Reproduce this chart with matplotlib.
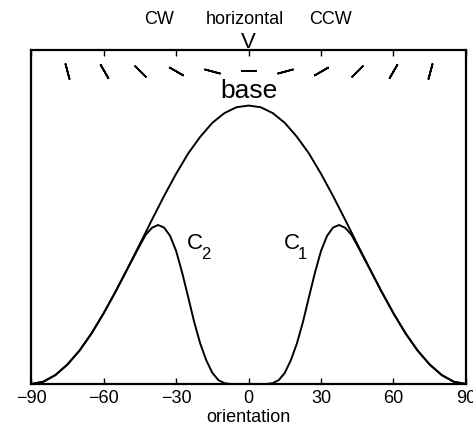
# tuning curves: base response and the two channels C1 / C2 over orientation
import matplotlib
matplotlib.use("Agg")
import matplotlib.pyplot as plt

plt.rcParams["font.family"] = ["Liberation Sans", "DejaVu Sans"]

# base curve, read every 5 deg
theta_base = [-90, -85, -80, -75, -70, -65, -60, -55, -50, -45, -40, -35, -30,
              -25, -20, -15, -10, -5, 0, 5, 10, 15, 20, 25, 30, 35, 40, 45,
              50, 55, 60, 65, 70, 75, 80, 85, 90]
base = [0.000, 0.008, 0.032, 0.070, 0.120, 0.182, 0.254, 0.333, 0.417, 0.503,
        0.590, 0.675, 0.755, 0.828, 0.888, 0.938, 0.973, 0.994, 1.000,
        0.994, 0.973, 0.938, 0.888, 0.828, 0.755, 0.675, 0.590, 0.503,
        0.417, 0.333, 0.254, 0.182, 0.120, 0.070, 0.032, 0.008, 0.000]

# C2 (left channel), finer steps round the peak
theta_c2 = [-90, -85, -80, -75, -70, -65, -60, -55, -50, -45, -42.5, -40,
            -37.5, -35, -32.5, -30, -27.5, -25, -22.5, -20, -17.5, -15,
            -12.5, -10, -7.5, 90]
c2 = [0.000, 0.008, 0.032, 0.070, 0.120, 0.182, 0.254, 0.333, 0.416, 0.498,
      0.537, 0.561, 0.571, 0.562, 0.532, 0.478, 0.400, 0.312, 0.222, 0.145,
      0.085, 0.040, 0.014, 0.003, 0.000, 0.000]

# C1 (right channel)
theta_c1 = [-90, 7.5, 10, 12.5, 15, 17.5, 20, 22.5, 25, 27.5, 30, 32.5, 35,
            37.5, 40, 42.5, 45, 50, 55, 60, 65, 70, 75, 80, 85, 90]
c1 = [0.000, 0.000, 0.003, 0.014, 0.040, 0.085, 0.145, 0.222, 0.312, 0.400,
      0.478, 0.532, 0.562, 0.571, 0.561, 0.537, 0.498, 0.416, 0.333, 0.254,
      0.182, 0.120, 0.070, 0.032, 0.008, 0.000]

# little bars along the top showing the stimulus orientation
bar_angles = [-75, -60, -45, -30, -15, 0, 15, 30, 45, 60, 75]

xticks = [-90, -60, -30, 0, 30, 60, 90]

fig = plt.figure(figsize=(4.73, 4.30), dpi=100)
ax = fig.add_axes([0.066, 0.107, 0.919, 0.777])

ax.plot(theta_base, base, color="black", lw=1.4)
ax.plot(theta_c2, c2, color="black", lw=1.4)
ax.plot(theta_c1, c1, color="black", lw=1.4)

for a in bar_angles:
    ax.plot([a], [1.125], linestyle="none", marker=(2, 2, a - 90),
            ms=12, mew=1.3, color="black")

ax.text(0, 1.01, "base", ha="center", va="bottom", fontsize=19)
# C labels with a lowered subscript like the original
ax.text(-25.5, 0.505, "C", ha="left", va="center", fontsize=16)
ax.text(-19.6, 0.465, "2", ha="left", va="center", fontsize=12)
ax.text(14.5, 0.505, "C", ha="left", va="center", fontsize=16)
ax.text(20.4, 0.465, "1", ha="left", va="center", fontsize=12)

ax.text(-37, 1.31, "CW", ha="center", va="center", fontsize=13, clip_on=False)
ax.text(-1.5, 1.31, "horizontal", ha="center", va="center", fontsize=13,
        clip_on=False)
ax.text(34, 1.31, "CCW", ha="center", va="center", fontsize=13, clip_on=False)
ax.text(0, 1.19, "V", ha="center", va="bottom", fontsize=16, clip_on=False)

ax.set_xlim(-90, 90)
ax.set_ylim(0, 1.2)
ax.set_xticks(xticks)
ax.set_yticks([])
ax.tick_params(axis="x", direction="in", top=True, length=4, width=1,
               labelsize=13, pad=4)
for s in ax.spines.values():
    s.set_linewidth(1.6)
ax.set_xlabel("orientation", fontsize=13, labelpad=2)

fig.savefig("out.png", dpi=100)
